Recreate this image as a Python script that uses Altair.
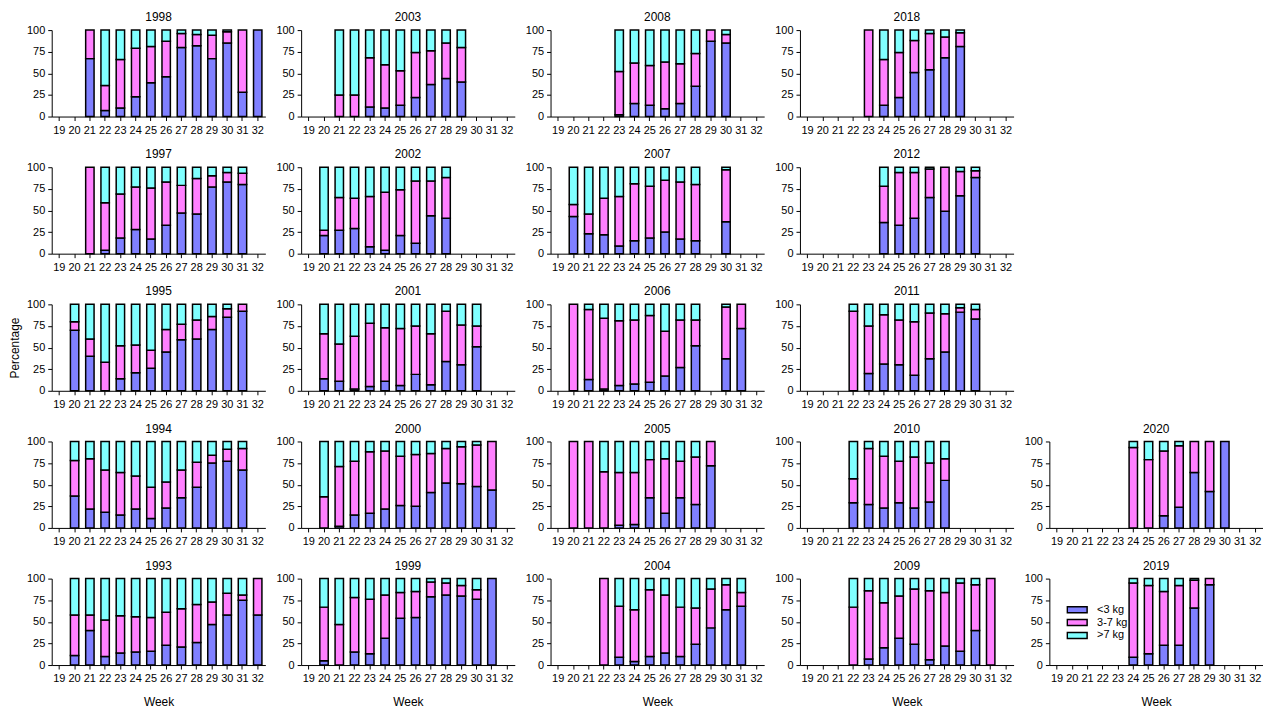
import altair as alt
import pandas as pd

CLASSES = ["<3 kg", "3-7 kg", ">7 kg"]
COLORS = ["#8080ff", "#ff80ff", "#80ffff"]
WEEK_DOMAIN = list(range(19, 33))

# ---- data per year: weeks, % <3 kg, % 3-7 kg, % >7 kg ----
WEEKS_1998 = [21, 22, 23, 24, 25, 26, 27, 28, 29, 30, 31, 32]
LT3_1998 = [67, 7, 10, 23, 39, 46, 80, 82, 67, 85, 28, 100]
MID_1998 = [33, 29, 56, 56, 42, 41, 16, 13, 27, 13, 72, 0]
GT7_1998 = [0, 64, 34, 21, 19, 13, 4, 5, 6, 2, 0, 0]

WEEKS_2003 = [21, 22, 23, 24, 25, 26, 27, 28, 29]
LT3_2003 = [0, 0, 11, 10, 13, 22, 37, 44, 40]
MID_2003 = [25, 25, 57, 50, 40, 52, 39, 41, 40]
GT7_2003 = [75, 75, 32, 40, 47, 26, 24, 15, 20]

WEEKS_2008 = [23, 24, 25, 26, 27, 28, 29, 30]
LT3_2008 = [2, 15, 13, 9, 15, 35, 87, 85]
MID_2008 = [50, 47, 46, 54, 46, 38, 13, 10]
GT7_2008 = [48, 38, 41, 37, 39, 27, 0, 5]

WEEKS_2018 = [23, 24, 25, 26, 27, 28, 29]
LT3_2018 = [0, 13, 22, 51, 54, 68, 81]
MID_2018 = [100, 53, 52, 37, 42, 24, 16]
GT7_2018 = [0, 34, 26, 12, 4, 8, 3]

WEEKS_1997 = [21, 22, 23, 24, 25, 26, 27, 28, 29, 30, 31]
LT3_1997 = [0, 4, 18, 28, 17, 33, 47, 46, 77, 83, 80]
MID_1997 = [100, 55, 51, 49, 59, 50, 32, 41, 13, 11, 13]
GT7_1997 = [0, 41, 31, 23, 24, 17, 21, 13, 10, 6, 7]

WEEKS_2002 = [20, 21, 22, 23, 24, 25, 26, 27, 28]
LT3_2002 = [21, 27, 29, 8, 4, 21, 12, 44, 41]
MID_2002 = [6, 38, 35, 58, 67, 53, 72, 40, 47]
GT7_2002 = [73, 35, 36, 34, 29, 26, 16, 16, 12]

WEEKS_2007 = [20, 21, 22, 23, 24, 25, 26, 27, 28, 30]
LT3_2007 = [43, 23, 22, 9, 15, 18, 25, 17, 15, 37]
MID_2007 = [14, 23, 42, 57, 66, 60, 60, 66, 65, 60]
GT7_2007 = [43, 54, 36, 34, 19, 22, 15, 17, 20, 3]

WEEKS_2012 = [24, 25, 26, 27, 28, 29, 30]
LT3_2012 = [36, 33, 41, 65, 49, 67, 88]
MID_2012 = [42, 61, 53, 33, 51, 28, 8]
GT7_2012 = [22, 6, 6, 2, 0, 5, 4]

WEEKS_1995 = [20, 21, 22, 23, 24, 25, 26, 27, 28, 29, 30, 31]
LT3_1995 = [70, 40, 0, 14, 21, 26, 45, 59, 60, 71, 85, 92]
MID_1995 = [10, 20, 33, 38, 32, 21, 26, 18, 22, 15, 10, 8]
GT7_1995 = [20, 40, 67, 48, 47, 53, 29, 23, 18, 14, 5, 0]

WEEKS_2001 = [20, 21, 22, 23, 24, 25, 26, 27, 28, 29, 30]
LT3_2001 = [14, 11, 2, 5, 11, 6, 19, 7, 34, 30, 51]
MID_2001 = [52, 43, 61, 73, 62, 66, 56, 59, 58, 46, 24]
GT7_2001 = [34, 46, 37, 22, 27, 28, 25, 34, 8, 24, 25]

WEEKS_2006 = [20, 21, 22, 23, 24, 25, 26, 27, 28, 30, 31]
LT3_2006 = [0, 13, 2, 6, 8, 10, 17, 27, 52, 37, 72]
MID_2006 = [100, 81, 82, 75, 74, 77, 52, 55, 30, 60, 28]
GT7_2006 = [0, 6, 16, 19, 18, 13, 31, 18, 18, 3, 0]

WEEKS_2011 = [22, 23, 24, 25, 26, 27, 28, 29, 30]
LT3_2011 = [0, 20, 31, 30, 18, 37, 45, 91, 83]
MID_2011 = [92, 55, 57, 52, 62, 53, 44, 5, 11]
GT7_2011 = [8, 25, 12, 18, 20, 10, 11, 4, 6]

WEEKS_1994 = [20, 21, 22, 23, 24, 25, 26, 27, 28, 29, 30, 31]
LT3_1994 = [37, 22, 18, 15, 22, 11, 23, 35, 47, 75, 77, 67]
MID_1994 = [41, 58, 49, 49, 38, 36, 30, 32, 29, 9, 14, 25]
GT7_1994 = [22, 20, 33, 36, 40, 53, 47, 33, 24, 16, 9, 8]

WEEKS_2000 = [20, 21, 22, 23, 24, 25, 26, 27, 28, 29, 30, 31]
LT3_2000 = [0, 2, 15, 17, 22, 26, 25, 41, 52, 51, 48, 44]
MID_2000 = [36, 69, 62, 71, 67, 57, 60, 45, 40, 43, 48, 56]
GT7_2000 = [64, 29, 23, 12, 11, 17, 15, 14, 8, 6, 4, 0]

WEEKS_2005 = [20, 21, 22, 23, 24, 25, 26, 27, 28, 29]
LT3_2005 = [0, 0, 0, 3, 4, 35, 17, 35, 27, 72]
MID_2005 = [100, 100, 65, 61, 60, 44, 63, 42, 55, 28]
GT7_2005 = [0, 0, 35, 36, 36, 21, 20, 23, 18, 0]

WEEKS_2010 = [22, 23, 24, 25, 26, 27, 28]
LT3_2010 = [29, 27, 23, 29, 23, 30, 55]
MID_2010 = [28, 65, 60, 48, 59, 45, 25]
GT7_2010 = [43, 8, 17, 23, 18, 25, 20]

WEEKS_2020 = [24, 25, 26, 27, 28, 29, 30]
LT3_2020 = [0, 0, 14, 24, 64, 42, 100]
MID_2020 = [93, 79, 75, 71, 36, 58, 0]
GT7_2020 = [7, 21, 11, 5, 0, 0, 0]

WEEKS_1993 = [20, 21, 22, 23, 24, 25, 26, 27, 28, 29, 30, 31, 32]
LT3_1993 = [11, 40, 10, 14, 15, 16, 23, 21, 26, 47, 58, 75, 58]
MID_1993 = [47, 18, 42, 43, 41, 39, 38, 44, 44, 26, 25, 6, 42]
GT7_1993 = [42, 42, 48, 43, 44, 45, 39, 35, 30, 27, 17, 19, 0]

WEEKS_1999 = [20, 21, 22, 23, 24, 25, 26, 27, 28, 29, 30, 31]
LT3_1999 = [5, 0, 15, 13, 31, 54, 55, 79, 81, 80, 76, 100]
MID_1999 = [62, 47, 63, 63, 50, 30, 30, 17, 14, 12, 11, 0]
GT7_1999 = [33, 53, 22, 24, 19, 16, 15, 4, 5, 8, 13, 0]

WEEKS_2004 = [22, 23, 24, 25, 26, 27, 28, 29, 30, 31]
LT3_2004 = [0, 9, 4, 10, 14, 10, 24, 43, 64, 68]
MID_2004 = [100, 59, 60, 77, 67, 57, 42, 45, 29, 16]
GT7_2004 = [0, 32, 36, 13, 19, 33, 34, 12, 7, 16]

WEEKS_2009 = [22, 23, 24, 25, 26, 27, 28, 29, 30, 31]
LT3_2009 = [0, 7, 20, 31, 24, 6, 22, 16, 40, 0]
MID_2009 = [67, 79, 52, 49, 64, 80, 62, 79, 53, 100]
GT7_2009 = [33, 14, 28, 20, 12, 14, 16, 5, 7, 0]

WEEKS_2019 = [24, 25, 26, 27, 28, 29]
LT3_2019 = [9, 13, 23, 23, 66, 93]
MID_2019 = [86, 79, 62, 69, 32, 7]
GT7_2019 = [5, 8, 15, 8, 2, 0]

# grid order (5 columns), None = empty cell
GRID = [
    (1998, WEEKS_1998, LT3_1998, MID_1998, GT7_1998),
    (2003, WEEKS_2003, LT3_2003, MID_2003, GT7_2003),
    (2008, WEEKS_2008, LT3_2008, MID_2008, GT7_2008),
    (2018, WEEKS_2018, LT3_2018, MID_2018, GT7_2018),
    None,
    (1997, WEEKS_1997, LT3_1997, MID_1997, GT7_1997),
    (2002, WEEKS_2002, LT3_2002, MID_2002, GT7_2002),
    (2007, WEEKS_2007, LT3_2007, MID_2007, GT7_2007),
    (2012, WEEKS_2012, LT3_2012, MID_2012, GT7_2012),
    None,
    (1995, WEEKS_1995, LT3_1995, MID_1995, GT7_1995),
    (2001, WEEKS_2001, LT3_2001, MID_2001, GT7_2001),
    (2006, WEEKS_2006, LT3_2006, MID_2006, GT7_2006),
    (2011, WEEKS_2011, LT3_2011, MID_2011, GT7_2011),
    None,
    (1994, WEEKS_1994, LT3_1994, MID_1994, GT7_1994),
    (2000, WEEKS_2000, LT3_2000, MID_2000, GT7_2000),
    (2005, WEEKS_2005, LT3_2005, MID_2005, GT7_2005),
    (2010, WEEKS_2010, LT3_2010, MID_2010, GT7_2010),
    (2020, WEEKS_2020, LT3_2020, MID_2020, GT7_2020),
    (1993, WEEKS_1993, LT3_1993, MID_1993, GT7_1993),
    (1999, WEEKS_1999, LT3_1999, MID_1999, GT7_1999),
    (2004, WEEKS_2004, LT3_2004, MID_2004, GT7_2004),
    (2009, WEEKS_2009, LT3_2009, MID_2009, GT7_2009),
    (2019, WEEKS_2019, LT3_2019, MID_2019, GT7_2019),
]

FONT = "Liberation Sans"
W, H = 215, 87


def panel(year, weeks, lt3, mid, gt7, ytitle, xtitle, legend):
    rows = []
    for w, a, b, c in zip(weeks, lt3, mid, gt7):
        for i, v in enumerate((a, b, c)):
            if v > 0:
                rows.append({"week": w, "cls": CLASSES[i], "pct": v, "ord": i})
    df = pd.DataFrame(rows)
    xaxis = alt.Axis(labelAngle=0, tickSize=4, labelPadding=4, title="Week" if xtitle else None,
                     titleFontWeight="normal", titleFontSize=12, titlePadding=13, titleFont=FONT)
    yaxis = alt.Axis(values=[0, 25, 50, 75, 100], grid=False, tickSize=4, labelPadding=3,
                     title="Percentage" if ytitle else None,
                     titleFontWeight="normal", titleFontSize=12, titlePadding=5, titleFont=FONT)
    if legend:
        leg = alt.Legend(title=None, orient="none", legendX=17, legendY=25,
                         symbolType="M-1,-0.3H1V0.3H-1Z", symbolSize=400,
                         symbolStrokeColor="black", symbolStrokeWidth=1.5, symbolOpacity=1,
                         labelFontSize=11, labelFont=FONT, labelColor="black",
                         labelOffset=9, rowPadding=0, clipHeight=12.5)
    else:
        leg = None
    return (
        alt.Chart(df, title=alt.TitleParams(str(year), fontSize=12, fontWeight="normal",
                                             font=FONT, offset=0, frame="group", color="black"))
        .mark_bar(stroke="black", strokeWidth=1.5, opacity=1)
        .encode(
            x=alt.X("week:O", scale=alt.Scale(domain=WEEK_DOMAIN, paddingInner=0.45,
                                              paddingOuter=0.225), axis=xaxis),
            y=alt.Y("pct:Q", stack="zero", scale=alt.Scale(domain=[0, 100], nice=False), axis=yaxis),
            color=alt.Color("cls:N", scale=alt.Scale(domain=CLASSES, range=COLORS), legend=leg),
            order=alt.Order("ord:Q"),
        )
        .properties(width=W, height=H)
    )


def blank():
    return (
        alt.Chart(pd.DataFrame({"v": [0]}))
        .mark_point(opacity=0)
        .encode(x=alt.X("v:Q", axis=None), y=alt.Y("v:Q", axis=None))
        .properties(width=W, height=H)
    )


charts = []
for idx, item in enumerate(GRID):
    if item is None:
        charts.append(blank())
        continue
    year, weeks, lt3, mid, gt7 = item
    row, col = divmod(idx, 5)
    charts.append(panel(year, weeks, lt3, mid, gt7,
                        ytitle=(row == 2 and col == 0),
                        xtitle=(row == 4),
                        legend=(year == 2019)))

chart = (
    alt.concat(*charts, columns=5, spacing={"row": 13, "column": 10}, align="each")
    .resolve_scale(color="independent", x="independent", y="independent")
    .resolve_legend(color="independent")
    .properties(padding={"left": 0, "top": 1, "right": 0, "bottom": 0})
    .configure_view(stroke=None)
    .configure_axis(domainColor="black", tickColor="black", labelColor="black",
                    titleColor="black", labelFont=FONT, labelFontSize=11, domainWidth=1, tickWidth=1)
)

chart.save("out.html", embed_options={"renderer": "svg", "actions": False})
